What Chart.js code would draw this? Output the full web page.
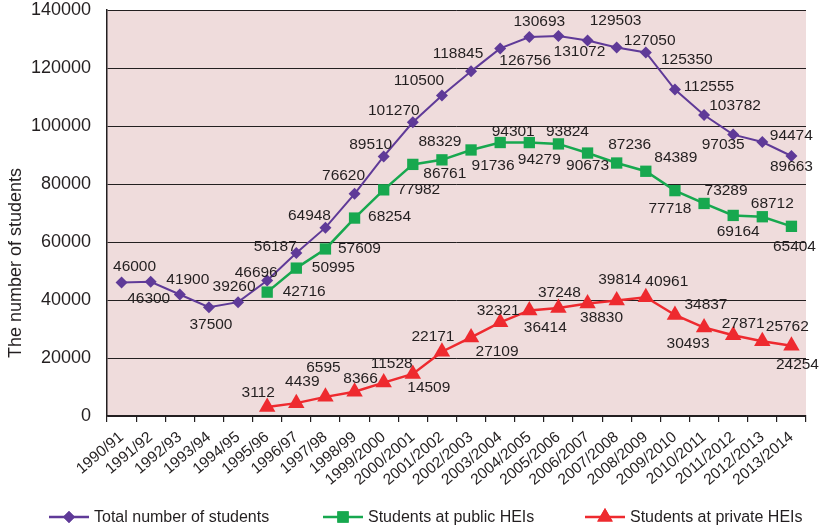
<!DOCTYPE html>
<html>
<head>
<meta charset="utf-8">
<script src="https://cdn.jsdelivr.net/npm/chart.js@4"></script>
<style>
  html, body { margin: 0; padding: 0; background: #fff; }
  #wrap { width: 823px; height: 528px; position: relative; }
</style>
</head>
<body>
<div id="wrap"><canvas id="studentsChart"></canvas></div>
<script>
// Data
const years = [
  "1990/91", "1991/92", "1992/93", "1993/94", "1994/95", "1995/96", "1996/97",
  "1997/98", "1998/99", "1999/2000", "2000/2001", "2001/2002", "2002/2003",
  "2003/2004", "2004/2005", "2005/2006", "2006/2007", "2007/2008", "2008/2009",
  "2009/2010", "2010/2011", "2011/2012", "2012/2013", "2013/2014"
];
const totalStudents = [
  46000, 46300, 41900, 37500, 39260, 46696, 56187, 64948, 76620, 89510, 101270,
  110500, 118845, 126756, 130693, 131072, 129503, 127050, 125350, 112555,
  103782, 97035, 94474, 89663
];
const publicStudents = [
  null, null, null, null, null, 42716, 50995, 57609, 68254, 77982, 86761,
  88329, 91736, 94301, 94279, 93824, 90673, 87236, 84389, 77718, 73289,
  69164, 68712, 65404
];
const privateStudents = [
  null, null, null, null, null, 3112, 4439, 6595, 8366, 11528, 14509,
  22171, 27109, 32321, 36414, 37248, 38830, 39814, 40961, 34837, 30493,
  27871, 25762, 24254
];
const yTicks = [0, 20000, 40000, 60000, 80000, 100000, 120000, 140000];
const seriesNames = [
  "Total number of students",
  "Students at public HEIs",
  "Students at private HEIs"
];

// where each value label sits relative to its point (pixels)
const totalLabelOffsets = [
  [13, -16], [-2, 17], [8, -15], [2, 17], [-4, -15], [-11, -8], [-21, -6],
  [-16, -12], [-11, -18], [-13, -12], [-19, -12], [-23, -15], [-13, -18],
  [25, 12], [10, -15], [21, 16], [28, -20], [33, -7], [41, 7], [34, -3],
  [31, -9], [-10, 10], [29, -6], [0, 11]
];
const publicLabelOffsets = [
  null, null, null, null, null, [37, 0], [37, 0], [34, 0], [35, -1], [35, 0],
  [32, 9], [-2, -18], [22, 16], [13, -11], [10, 17], [9, -12], [0, 13],
  [13, -18], [30, -14], [-5, 18], [22, -13], [5, 16], [10, -13], [3, 20]
];
const privateLabelOffsets = [
  null, null, null, null, null, [-9, -14], [6, -21], [-2, -29], [6, -13],
  [8, -19], [16, 14], [-9, -15], [26, 14], [-2, -12], [16, 17], [1, -15],
  [14, 14], [3, -21], [21, -15], [31, -10], [-16, 16], [10, -11], [25, -15],
  [6, 19]
];

const FONT = "'Liberation Sans', Arial, Helvetica, sans-serif";
const TEXT = "#231f20";
const PURPLE = "#5f3a98";
const GREEN = "#17a84f";
const RED = "#ee2a2f";

const labelOffsets = [totalLabelOffsets, publicLabelOffsets, privateLabelOffsets];

const extras = {
  id: "extras",
  beforeDraw(chart) {
    const { ctx, chartArea: a } = chart;
    ctx.save();
    ctx.fillStyle = "#efdcdc";
    ctx.fillRect(a.left, a.top, a.right - a.left, a.bottom - a.top);
    ctx.restore();
  },
  afterDatasetsDraw(chart) {
    const ctx = chart.ctx;
    ctx.save();
    ctx.font = "15.5px " + FONT;
    ctx.fillStyle = TEXT;
    ctx.textAlign = "center";
    ctx.textBaseline = "middle";
    chart.data.datasets.forEach((ds, di) => {
      const meta = chart.getDatasetMeta(di);
      ds.data.forEach((v, i) => {
        if (v === null) return;
        const off = labelOffsets[di][i];
        const pt = meta.data[i];
        ctx.fillText(String(v), pt.x + off[0], pt.y + off[1]);
      });
    });
    ctx.restore();
  },
  afterDraw(chart) {
    const ctx = chart.ctx;
    // y axis title
    ctx.save();
    ctx.font = "18px " + FONT;
    ctx.fillStyle = TEXT;
    ctx.translate(16, 263);
    ctx.rotate(-Math.PI / 2);
    ctx.textAlign = "center";
    ctx.textBaseline = "middle";
    ctx.fillText("The number of students", 0, 0);
    ctx.restore();

    // legend: line with marker, then name
    const items = [
      { x: 49, style: "rectRot", r: 6, color: PURPLE },
      { x: 323, style: "rect", r: 8, color: GREEN },
      { x: 585, style: "triangle", r: 9, color: RED }
    ];
    const ly = 517;
    ctx.save();
    ctx.font = "16px " + FONT;
    ctx.textBaseline = "middle";
    items.forEach((it, k) => {
      ctx.strokeStyle = it.color;
      ctx.lineWidth = 2.5;
      ctx.beginPath();
      ctx.moveTo(it.x, ly);
      ctx.lineTo(it.x + 40, ly);
      ctx.stroke();
      ctx.fillStyle = it.color;
      Chart.helpers.drawPoint(ctx, { pointStyle: it.style, radius: it.r, borderWidth: 0 }, it.x + 20, ly);
      ctx.fill();
      ctx.fillStyle = TEXT;
      ctx.fillText(seriesNames[k], it.x + 45, ly + 1);
    });
    ctx.restore();
  }
};

const ctx = document.getElementById("studentsChart").getContext("2d");

const studentsChart = new Chart(ctx, {
  type: "line",
  data: {
    labels: years,
    datasets: [
      {
        label: seriesNames[0],
        data: totalStudents,
        borderColor: PURPLE,
        backgroundColor: PURPLE,
        borderWidth: 2,
        pointStyle: "rectRot",
        pointRadius: 6,
        pointBorderWidth: 0
      },
      {
        label: seriesNames[1],
        data: publicStudents,
        borderColor: GREEN,
        backgroundColor: GREEN,
        borderWidth: 2.5,
        pointStyle: "rect",
        pointRadius: 8,
        pointBorderWidth: 0
      },
      {
        label: seriesNames[2],
        data: privateStudents,
        borderColor: RED,
        backgroundColor: RED,
        borderWidth: 2.5,
        pointStyle: "triangle",
        pointRadius: 9.5,
        pointBorderWidth: 0
      }
    ]
  },
  options: {
    responsive: true,
    maintainAspectRatio: false,
    animation: false,
    layout: { padding: { top: 10, right: 17, bottom: 0, left: 0 } },
    plugins: {
      legend: { display: false },
      tooltip: { enabled: false }
    },
    scales: {
      x: {
        offset: true,
        afterFit: (s) => { s.height = 112; s.paddingLeft = 0; s.paddingRight = 0; },
        grid: {
          offset: true,
          drawOnChartArea: false,
          tickLength: 6,
          color: "#231f20",
          lineWidth: 1.2
        },
        border: { display: true, color: "#231f20", width: 1.5 },
        ticks: {
          autoSkip: false,
          minRotation: 40,
          maxRotation: 40,
          padding: 6,
          color: TEXT,
          font: { family: FONT, size: 15.5 }
        }
      },
      y: {
        min: yTicks[0],
        max: yTicks[yTicks.length - 1],
        afterFit: (s) => { s.width = 107; s.paddingTop = 0; s.paddingBottom = 0; },
        grid: { color: "#231f20", lineWidth: 1, drawTicks: false },
        border: { display: true, color: "#231f20", width: 1.5 },
        ticks: {
          stepSize: yTicks[1] - yTicks[0],
          padding: 16,
          color: TEXT,
          font: { family: FONT, size: 18 },
          callback: (v) => String(v)
        }
      }
    }
  },
  plugins: [extras]
});
</script>
</body>
</html>
